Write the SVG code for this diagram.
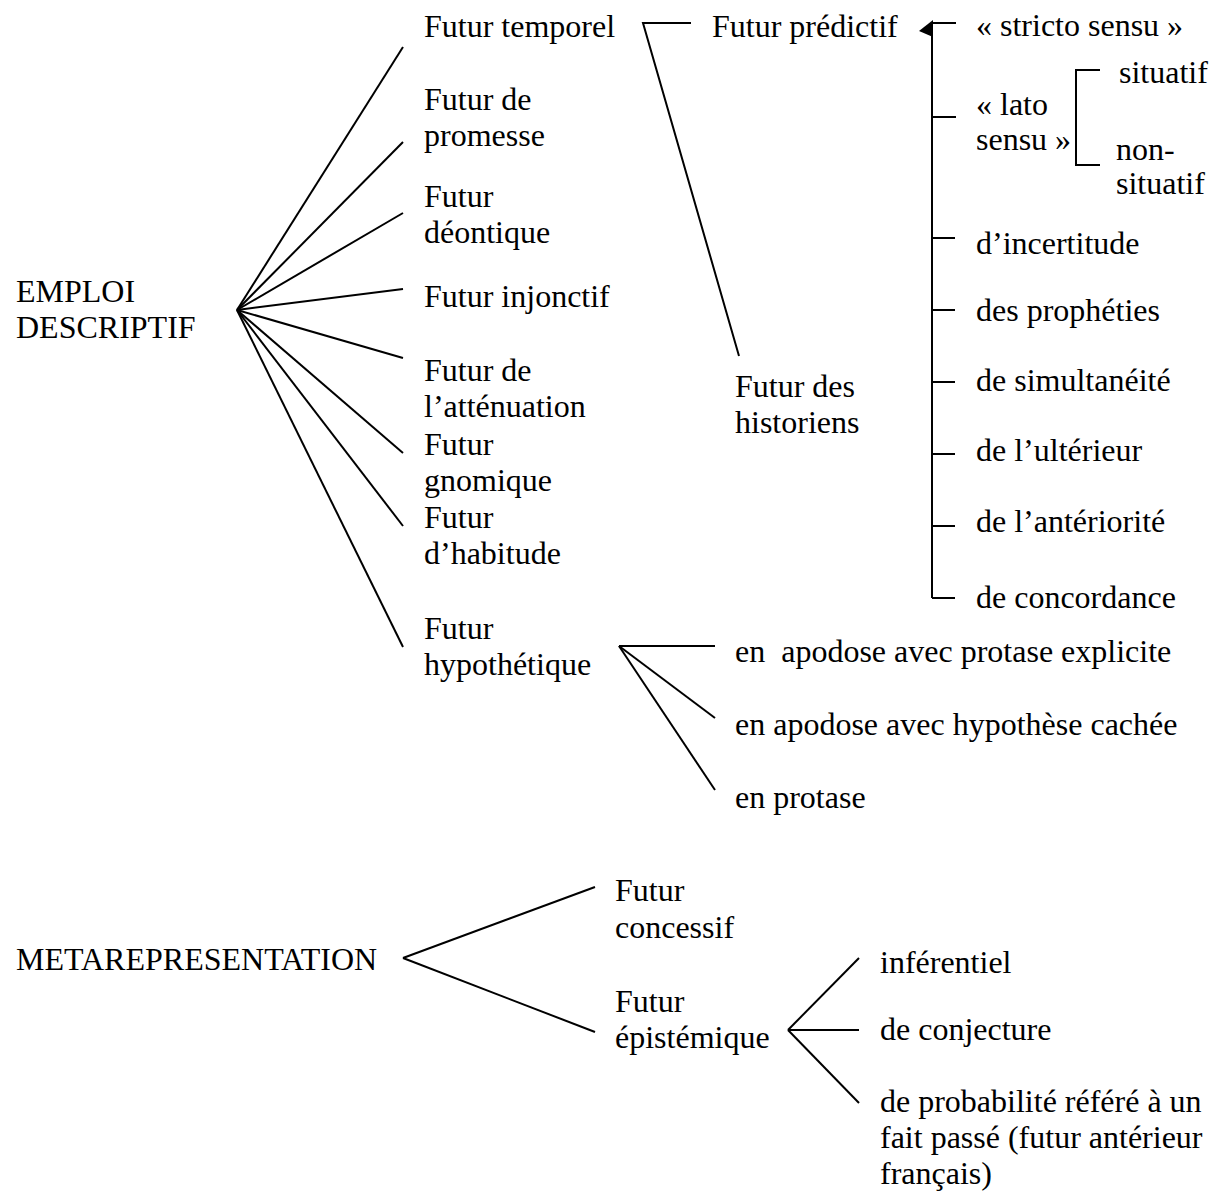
<svg xmlns="http://www.w3.org/2000/svg" width="1216" height="1196" viewBox="0 0 1216 1196">
<style>
text { font-family: "Liberation Serif", "Times New Roman", serif; font-size: 32px; fill: #000; white-space: pre; }
.c line, .c polyline { stroke: #000; stroke-width: 2; fill: none; }
</style>
<rect width="1216" height="1196" fill="#fff"/>
<g class="c" id="connectors">
  <line x1="237" y1="310" x2="403" y2="47"/>
  <line x1="237" y1="310" x2="403" y2="142"/>
  <line x1="237" y1="310" x2="403" y2="213"/>
  <line x1="237" y1="310" x2="403" y2="289"/>
  <line x1="237" y1="310" x2="403" y2="358"/>
  <line x1="237" y1="310" x2="403" y2="453"/>
  <line x1="237" y1="310" x2="403" y2="526"/>
  <line x1="237" y1="310" x2="403" y2="647"/>
  <polyline points="691,23 643,23 739,356"/>
  <line x1="932" y1="23" x2="932" y2="598"/>
  <line x1="932" y1="23" x2="956" y2="23"/>
  <polygon points="919,31 933,20 933,37" fill="#000" stroke="none"/>
  <line x1="932" y1="117" x2="956" y2="117"/>
  <line x1="932" y1="238" x2="955" y2="238"/>
  <line x1="932" y1="310" x2="955" y2="310"/>
  <line x1="932" y1="382" x2="955" y2="382"/>
  <line x1="932" y1="454" x2="955" y2="454"/>
  <line x1="932" y1="526" x2="955" y2="526"/>
  <line x1="932" y1="598" x2="955" y2="598"/>
  <polyline points="1100,70 1076,70 1076,165 1100,165"/>
  <line x1="619" y1="646" x2="715" y2="646"/>
  <line x1="619" y1="646" x2="715" y2="718"/>
  <line x1="619" y1="646" x2="715" y2="790"/>
  <line x1="403" y1="958" x2="595" y2="887"/>
  <line x1="403" y1="958" x2="595" y2="1032"/>
  <line x1="788" y1="1030" x2="859" y2="958"/>
  <line x1="788" y1="1030" x2="859" y2="1030"/>
  <line x1="788" y1="1030" x2="859" y2="1103"/>
</g>
<g id="emploi"><text x="16" y="302">EMPLOI</text><text x="16" y="338">DESCRIPTIF</text></g>
<g id="futur-temporel"><text x="424" y="37">Futur temporel</text></g>
<g id="futur-promesse"><text x="424" y="110">Futur de</text><text x="424" y="146">promesse</text></g>
<g id="futur-deontique"><text x="424" y="207">Futur</text><text x="424" y="243">déontique</text></g>
<g id="futur-injonctif"><text x="424" y="307">Futur injonctif</text></g>
<g id="futur-attenuation"><text x="424" y="381">Futur de</text><text x="424" y="417">l’atténuation</text></g>
<g id="futur-gnomique"><text x="424" y="455">Futur</text><text x="424" y="491">gnomique</text></g>
<g id="futur-habitude"><text x="424" y="528">Futur</text><text x="424" y="564">d’habitude</text></g>
<g id="futur-hypothetique"><text x="424" y="639">Futur</text><text x="424" y="675">hypothétique</text></g>
<g id="futur-predictif"><text x="712" y="37">Futur prédictif</text></g>
<g id="futur-historiens"><text x="735" y="397">Futur des</text><text x="735" y="433">historiens</text></g>
<g id="stricto"><text x="976" y="36">« stricto sensu »</text></g>
<g id="lato"><text x="976" y="115">« lato</text><text x="976" y="150">sensu »</text></g>
<g id="situatif"><text x="1119" y="83">situatif</text></g>
<g id="non-situatif"><text x="1116" y="160">non-</text><text x="1116" y="194">situatif</text></g>
<g id="incertitude"><text x="976" y="254">d’incertitude</text></g>
<g id="propheties"><text x="976" y="321">des prophéties</text></g>
<g id="simultaneite"><text x="976" y="391">de simultanéité</text></g>
<g id="ulterieur"><text x="976" y="461">de l’ultérieur</text></g>
<g id="anteriorite"><text x="976" y="532">de l’antériorité</text></g>
<g id="concordance"><text x="976" y="608">de concordance</text></g>
<g id="apodose-explicite"><text x="735" y="662">en  apodose avec protase explicite</text></g>
<g id="apodose-cachee"><text x="735" y="735">en apodose avec hypothèse cachée</text></g>
<g id="protase"><text x="735" y="808">en protase</text></g>
<g id="metarepresentation"><text x="16" y="970">METAREPRESENTATION</text></g>
<g id="futur-concessif"><text x="615" y="901">Futur</text><text x="615" y="938">concessif</text></g>
<g id="futur-epistemique"><text x="615" y="1012">Futur</text><text x="615" y="1048">épistémique</text></g>
<g id="inferentiel"><text x="880" y="973">inférentiel</text></g>
<g id="conjecture"><text x="880" y="1040">de conjecture</text></g>
<g id="probabilite"><text x="880" y="1112">de probabilité référé à un</text><text x="880" y="1148">fait passé (futur antérieur</text><text x="880" y="1184">français)</text></g>
</svg>
